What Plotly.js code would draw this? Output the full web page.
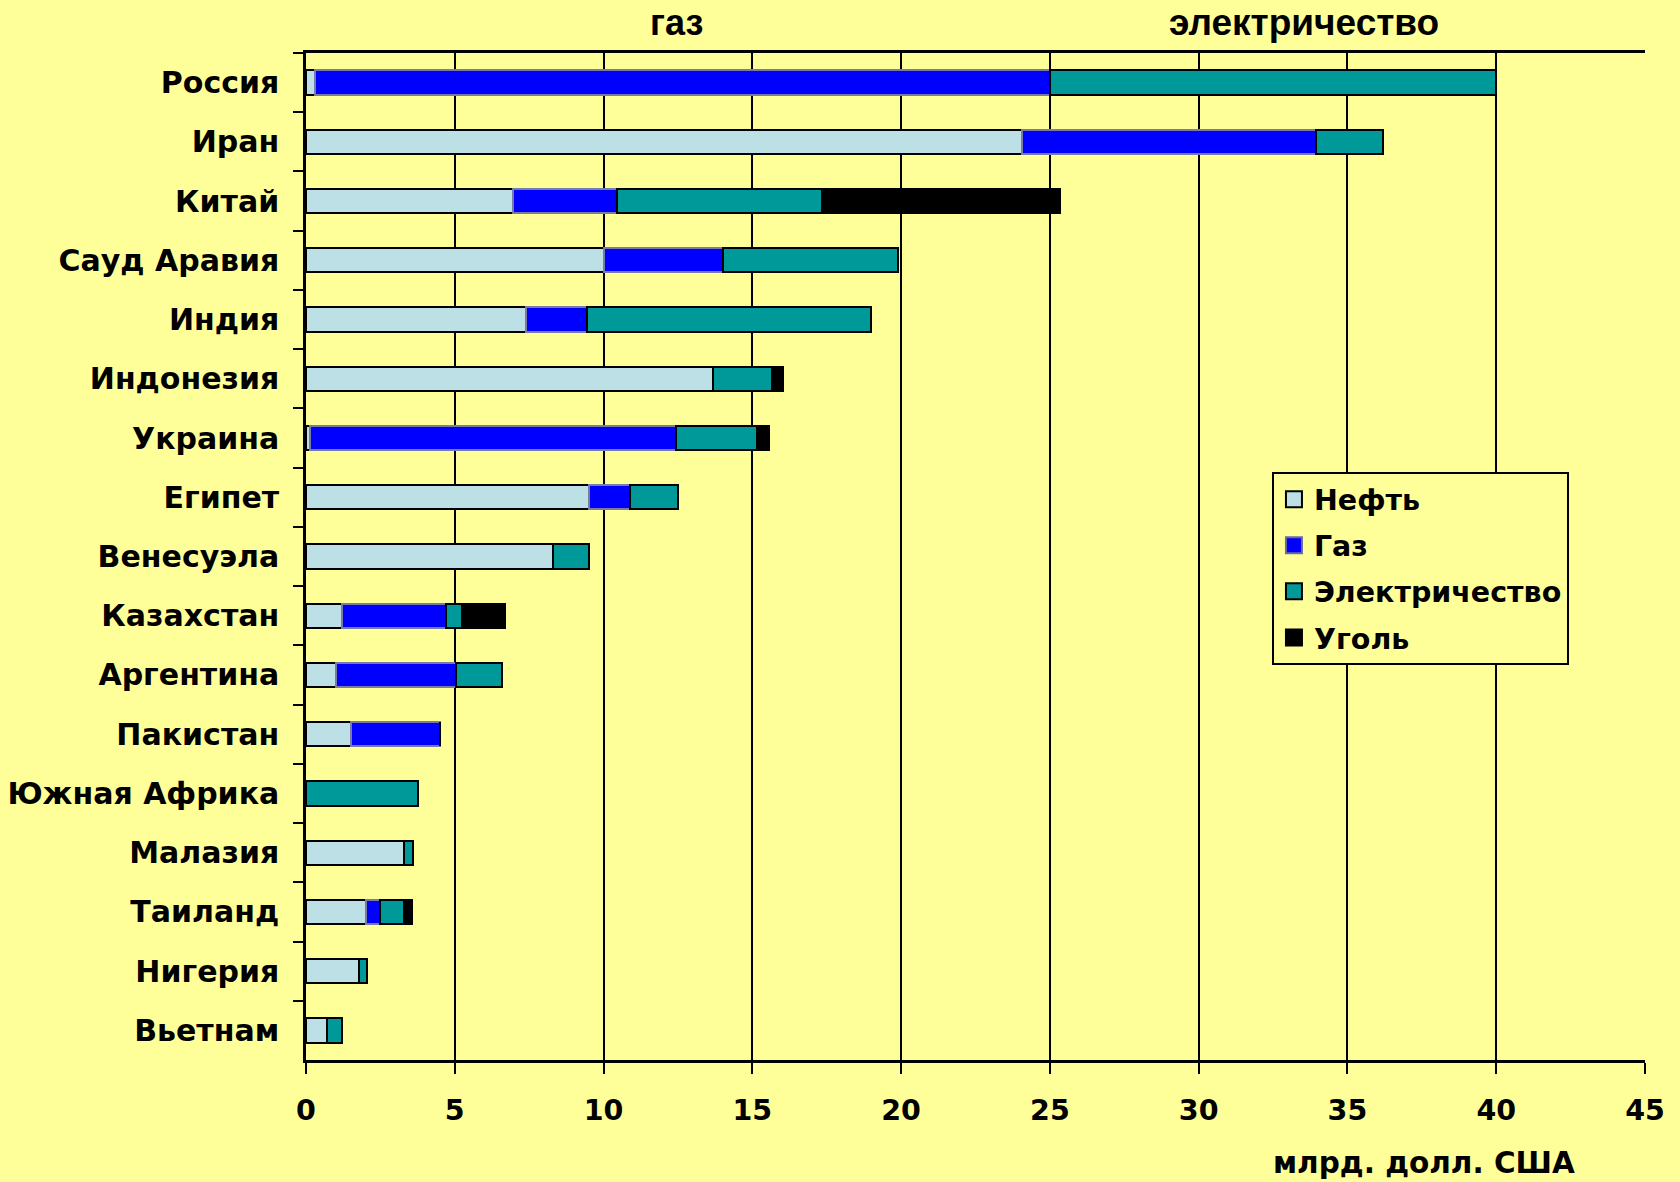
<!DOCTYPE html>
<html>
<head>
<meta charset="utf-8">
<script src="https://cdn.plot.ly/plotly-3.0.1.min.js"></script>
<style>html,body{margin:0;padding:0;background:#ffff99;}#chart{width:1680px;height:1182px;}</style>
</head>
<body>
<div id="chart"></div>
<script>
const countries = ["Россия","Иран","Китай","Сауд Аравия","Индия","Индонезия","Украина","Египет","Венесуэла","Казахстан","Аргентина","Пакистан","Южная Африка","Малазия","Таиланд","Нигерия","Вьетнам"];
const oil         = [0.3, 24.05, 6.95, 10.0, 7.4, 13.68, 0.15, 9.5, 8.3, 1.2, 1.0, 1.5, 0,    3.3, 2.0, 1.78, 0.7];
const gas         = [24.7, 9.9,  3.5,  4.0,  2.05, 0,    12.3, 1.4, 0,   3.5, 4.05, 3.0, 0,   0,   0.5, 0,    0];
const electricity = [15.0, 2.25, 6.9,  5.9,  9.55, 1.98, 2.7,  1.6, 1.2, 0.55, 1.55, 0,  3.75, 0.3, 0.8, 0.28, 0.52];
const coal        = [0,    0,    8.0,  0,    0,    0.36, 0.4,  0,   0,   1.45, 0,   0,   0,    0,   0.25, 0,  0];
const seriesNames = ["Нефть","Газ","Электричество","Уголь"];
const xTicks = [0,5,10,15,20,25,30,35,40,45];
const topLabels = ["газ","электричество"];
const xTitle = "млрд. долл. США";

const colors = ["#bde0e6","#0000ff","#009999","#000000"];
const lineColors = ["#000000","#7a7aa6","#000000","#000000"];
const bars = [oil, gas, electricity, coal].map((vals, i) => ({
  type: "bar",
  orientation: "h",
  name: seriesNames[i],
  legendgroup: "g" + i,
  showlegend: false,
  y: countries,
  x: vals,
  marker: {color: colors[i], line: {color: lineColors[i], width: 2}},
  width: 0.41,
  hoverinfo: "x+name"
}));
const legendItems = seriesNames.map((nm, i) => ({
  type: "scatter", mode: "markers", name: nm, legendgroup: "g" + i,
  x: [null], y: [null],
  marker: {symbol: "square", size: 16, color: colors[i], line: {color: lineColors[i] === "#000000" ? "#000" : "#6a6aa0", width: 2}},
  hoverinfo: "skip"
}));
const data = bars.concat(legendItems);

const bold = {family: "DejaVu Sans", weight: "bold", color: "#000"};
const layout = {
  width: 1680, height: 1182,
  paper_bgcolor: "#ffff99", plot_bgcolor: "#ffff99",
  margin: {l: 306, r: 35, t: 53, b: 122},
  barmode: "stack",
  showlegend: true,
  legend: {
    x: 0.7214, y: 0.5837, xanchor: "left", yanchor: "top",
    bgcolor: "#ffff99", bordercolor: "#000", borderwidth: 2,
    font: Object.assign({size: 28.5}, bold),
    traceorder: "grouped", tracegroupgap: 6, itemwidth: 30
  },
  xaxis: {
    range: [0, 45], tickvals: xTicks, ticktext: xTicks.map(String),
    showgrid: true, gridcolor: "#000", gridwidth: 2,
    zeroline: false,
    showline: true, linecolor: "#000", linewidth: 2.5, mirror: true,
    ticks: "outside", ticklen: 11, tickwidth: 2, tickcolor: "#000",
    ticklabelstandoff: 12,
    tickfont: Object.assign({size: 28.5}, bold)
  },
  yaxis: {
    type: "category", range: [16.5, -0.5],
    tickson: "boundaries",
    showgrid: false, zeroline: false,
    showline: true, linecolor: "#000", linewidth: 2.5,
    ticks: "outside", ticklen: 10, tickwidth: 2, tickcolor: "#000",
    ticklabelstandoff: 18,
    tickfont: Object.assign({size: 30}, bold)
  },
  annotations: [
    {text: topLabels[0], xref: "paper", yref: "paper", x: (676-306)/1339, y: 1, xanchor: "center", yanchor: "middle", yshift: 31, showarrow: false,
     font: {family: "Liberation Sans", weight: "bold", size: 36, color: "#000"}},
    {text: topLabels[1], xref: "paper", yref: "paper", x: (1304-306)/1339, y: 1, xanchor: "center", yanchor: "middle", yshift: 31, showarrow: false,
     font: {family: "Liberation Sans", weight: "bold", size: 37, color: "#000"}},
    {text: xTitle, xref: "paper", yref: "paper", x: (1577-306)/1339, y: 0, xanchor: "right", yanchor: "middle", yshift: -103, showarrow: false,
     font: Object.assign({size: 29.5}, bold)}
  ]
};
Plotly.newPlot("chart", data, layout, {displayModeBar: false});
</script>
</body>
</html>
